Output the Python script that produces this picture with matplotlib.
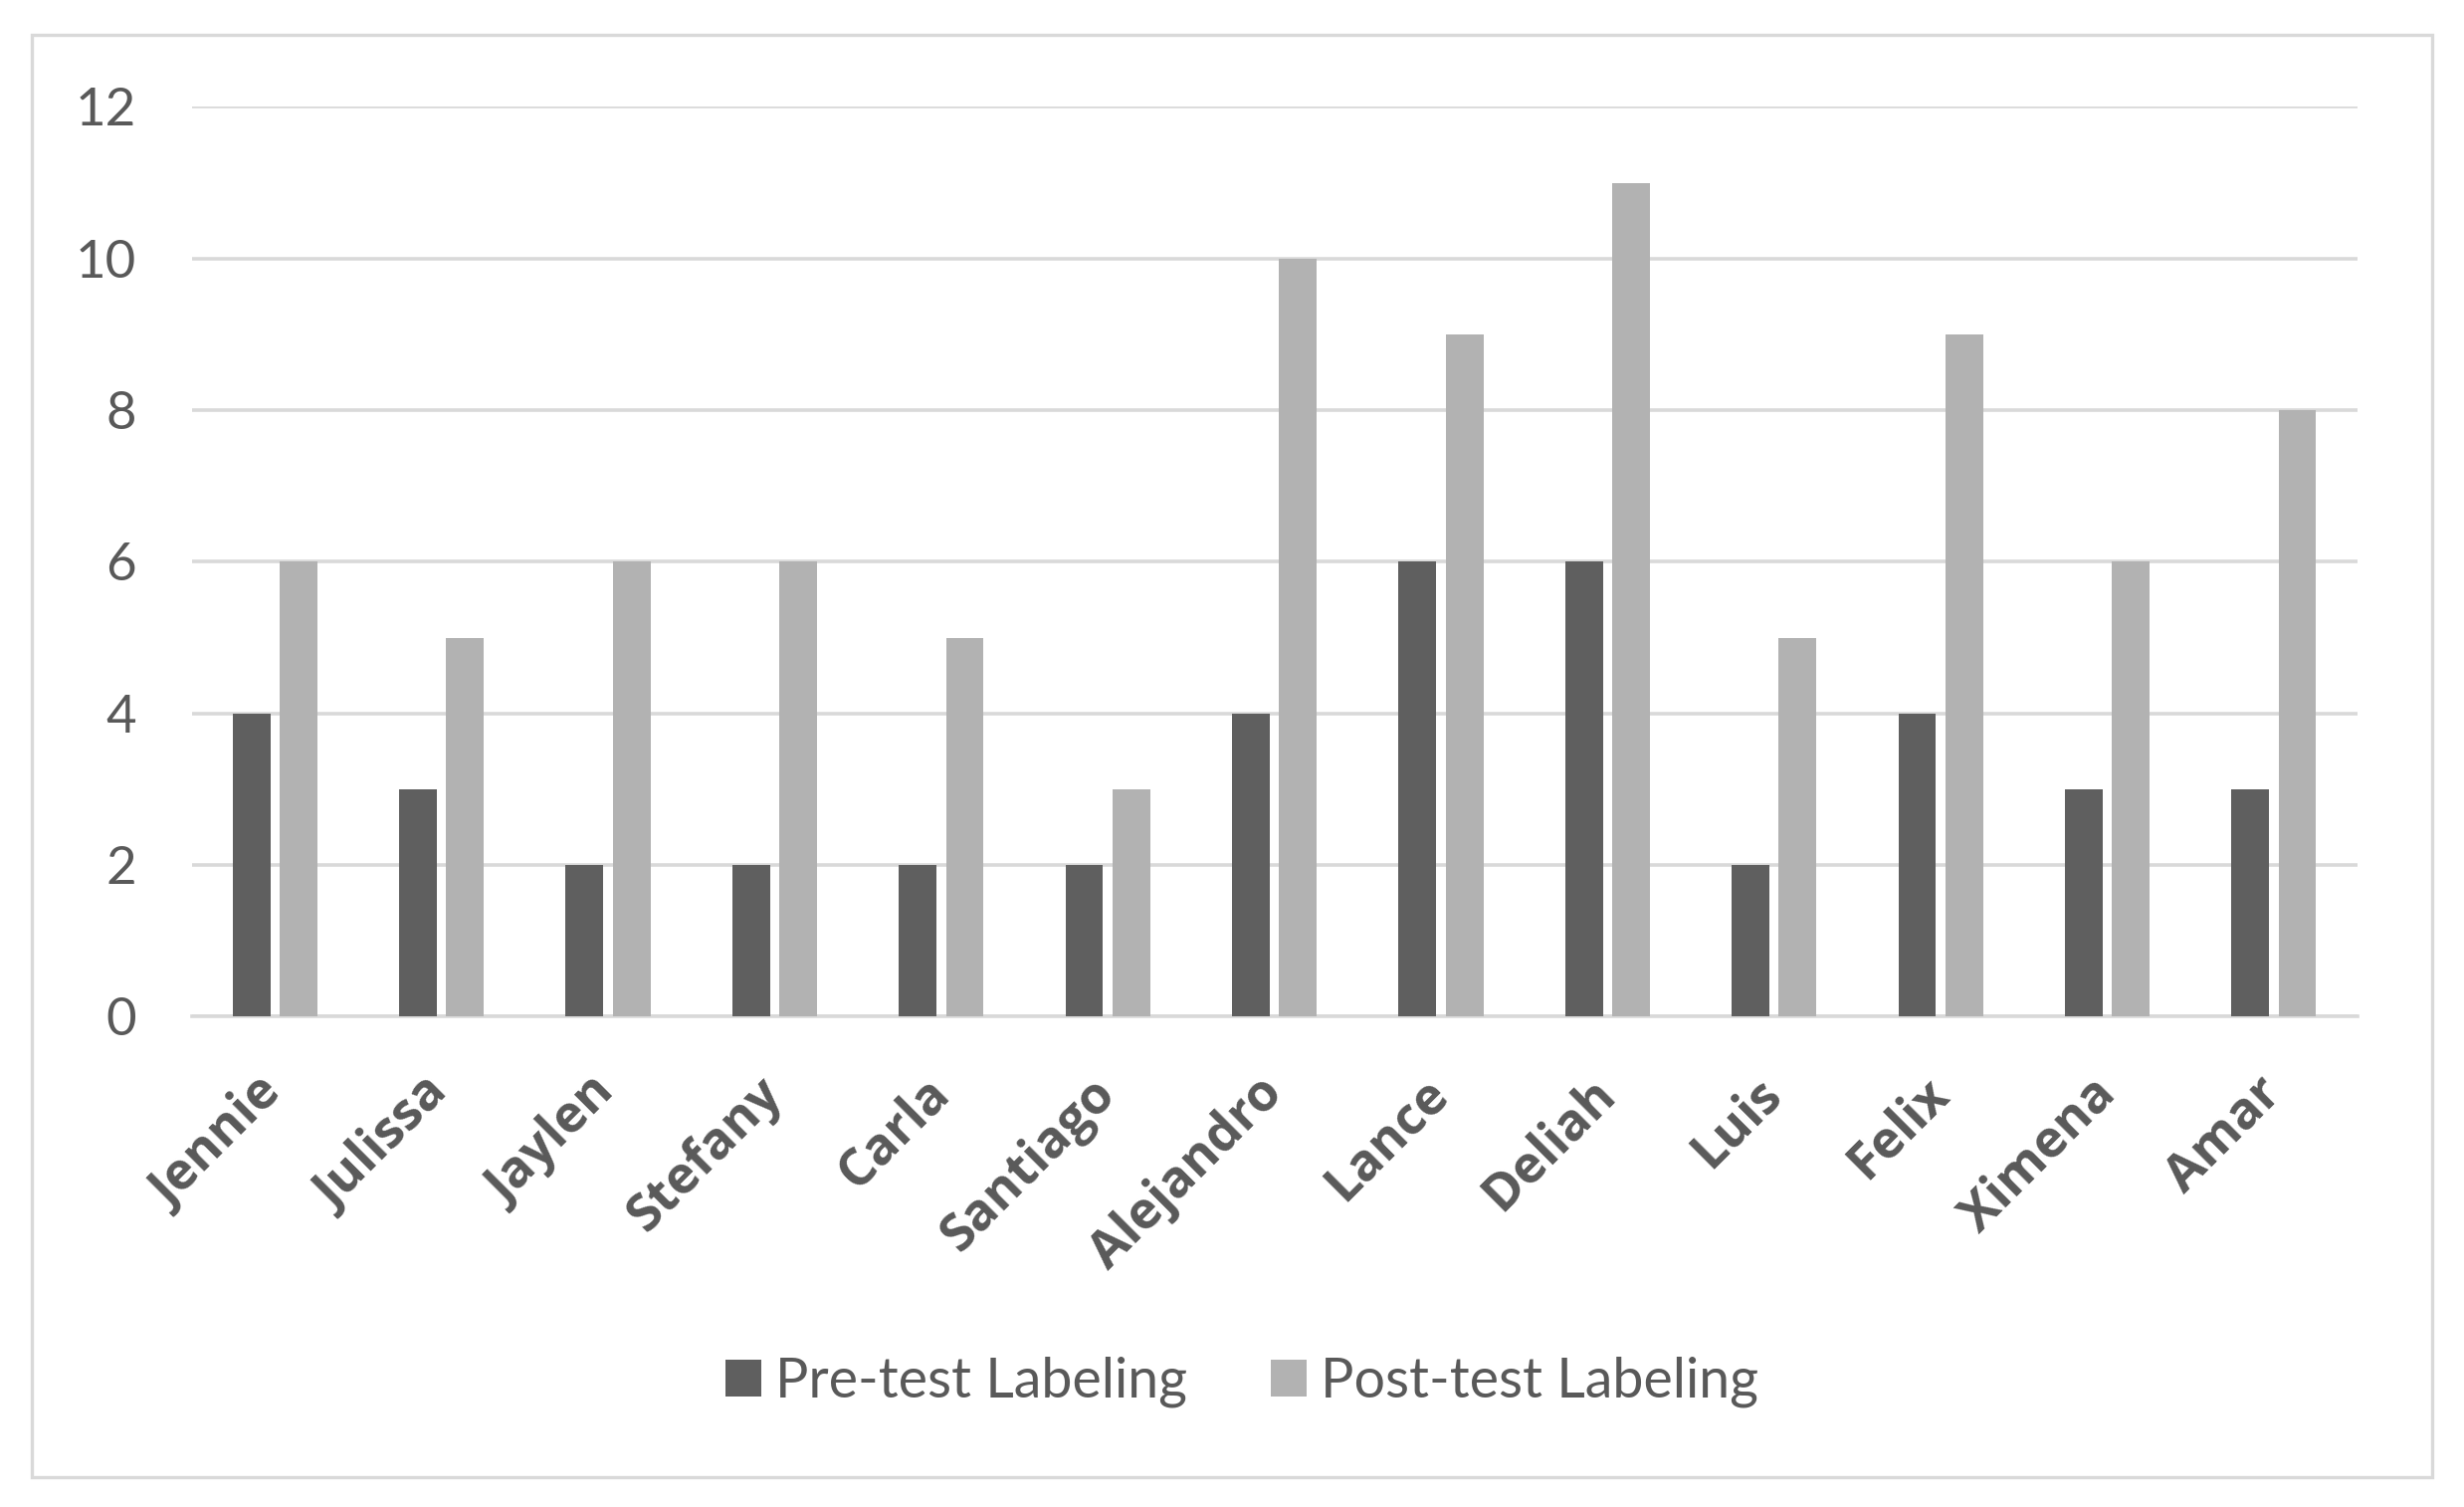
import matplotlib.pyplot as plt
import matplotlib.patches as mpatches
import numpy as np

# Data
students = ["Jennie", "Julissa", "Jaylen", "Stefany", "Carla", "Santiago", "Alejandro",
            "Lance", "Deliah", "Luis", "Felix", "Ximena", "Amar"]
pre_test = [4, 3, 2, 2, 2, 2, 4, 6, 6, 2, 4, 3, 3]
post_test = [6, 5, 6, 6, 5, 3, 10, 9, 11, 5, 9, 6, 8]
y_ticks = [0, 2, 4, 6, 8, 10, 12]

pre_color = "#5f5f5f"
post_color = "#b2b2b2"
grid_color = "#d9d9d9"
text_color = "#595959"

fig = plt.figure(figsize=(12.38, 7.57), dpi=200)
ax = fig.add_axes([0.0778, 0.3253, 0.8788, 0.6037])

x = np.arange(len(students))
w = 0.226
gap = 0.057
ax.bar(x - (w + gap) / 2, pre_test, width=w, color=pre_color, label="Pre-test Labeling", zorder=3)
ax.bar(x + (w + gap) / 2, post_test, width=w, color=post_color, label="Post-test Labeling", zorder=3)

ax.set_xlim(-0.5, len(students) - 0.5)
ax.set_ylim(0, 12)
ax.set_yticks(y_ticks)
ax.set_yticklabels([str(t) for t in y_ticks], fontfamily="Lato", fontsize=19, color=text_color)
ax.set_xticks(x)
ax.set_xticklabels(students, fontfamily="Open Sans", fontweight="bold", fontsize=18.6,
                   color=text_color, rotation=45, ha="right", va="center", rotation_mode="anchor")

ax.yaxis.grid(True, color=grid_color, linewidth=1.3, zorder=0)
ax.tick_params(axis="both", length=0)
ax.tick_params(axis="y", pad=20)
ax.tick_params(axis="x", pad=25)
for side in ["top", "right", "left"]:
    ax.spines[side].set_visible(False)
ax.spines["bottom"].set_color(grid_color)
ax.spines["bottom"].set_linewidth(1.3)

# legend
fig.legend(loc="center", bbox_to_anchor=(0.504, 0.083), ncol=2, frameon=False,
           prop={"family": "Lato", "size": 20}, labelcolor=text_color,
           handlelength=0.65, handleheight=0.65, handletextpad=0.25, columnspacing=1.5)

# outer border
fig.patches.append(mpatches.Rectangle((0.0128, 0.0198), 0.9742, 0.9572, transform=fig.transFigure,
                                      fill=False, edgecolor=grid_color, linewidth=1.2))

plt.savefig("out.png", dpi=200, facecolor="white")
plt.close()
